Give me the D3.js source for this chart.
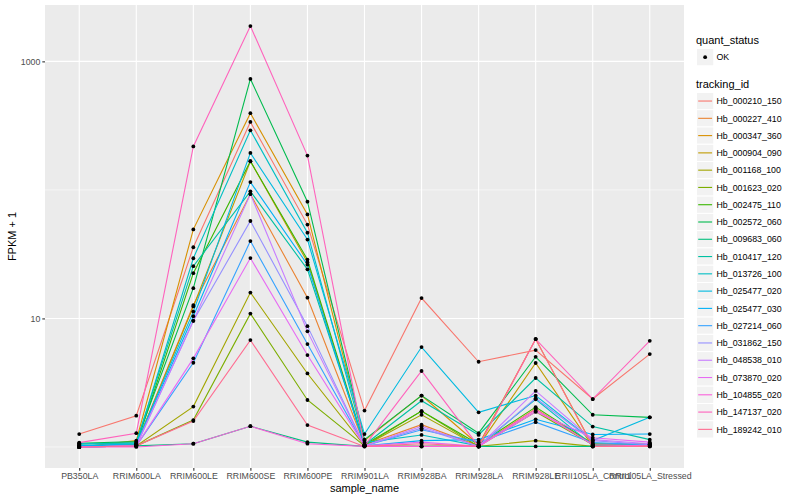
<!DOCTYPE html>
<html>
<head>
<meta charset="utf-8">
<script src="https://cdn.jsdelivr.net/npm/d3@7"></script>
<style>
  body { margin: 0; background: #fff; }
  text { font-family: "Liberation Sans", Arial, Helvetica, sans-serif; }
</style>
</head>
<body>
<svg id="chart" width="800" height="500"></svg>
<script>
// DATA: FPKM + 1 per sample
const samples = ["PB350LA", "RRIM600LA", "RRIM600LE", "RRIM600SE", "RRIM600PE",
    "RRIM901LA", "RRIM928BA", "RRIM928LA", "RRIM928LE", "RRII105LA_Control", "RRII105LA_Stressed"];

const trackingIds = ["Hb_000210_150", "Hb_000227_410", "Hb_000347_360", "Hb_000904_090",
    "Hb_001168_100", "Hb_001623_020", "Hb_002475_110", "Hb_002572_060", "Hb_009683_060",
    "Hb_010417_120", "Hb_013726_100", "Hb_025477_020", "Hb_025477_030", "Hb_027214_060",
    "Hb_031862_150", "Hb_048538_010", "Hb_073870_020", "Hb_104855_020", "Hb_147137_020",
    "Hb_189242_010"];

const hb000210_150 = [1.26, 1.75, 35.8, 338, 53.7, 1.92, 14.4, 4.60, 5.67, 2.36, 5.28];
const hb000227_410 = [1.02, 1.04, 12.7, 92.8, 14.5, 1.04, 1.49, 1.02, 1.98, 1.04, 1.02];
const hb000347_360 = [1.0, 1.12, 49.3, 395, 64.5, 1.12, 2.51, 1.04, 6.91, 1.02, 1.02];
const hb000904_090 = [1.0, 1.04, 12.4, 167, 27.4, 1.02, 1.01, 1.02, 4.50, 1.01, 1.02];
const hb001168_100 = [1.0, 1.02, 2.06, 15.9, 3.73, 1.02, 1.78, 1.01, 1.12, 1.01, 1.04];
const hb001623_020 = [1.0, 1.02, 1.62, 10.9, 2.32, 1.02, 1.90, 1.01, 1.88, 1.04, 1.04];
const hb002475_110 = [1.02, 1.04, 22.5, 167, 28.7, 1.04, 1.90, 1.05, 2.04, 1.06, 1.06];
const hb002572_060 = [1.07, 1.10, 17.2, 730, 81.0, 1.14, 2.51, 1.28, 5.03, 1.78, 1.70];
const hb009683_060 = [1.0, 1.02, 1.06, 1.45, 1.09, 1.01, 1.01, 1.01, 1.01, 1.01, 1.01];
const hb010417_120 = [1.05, 1.08, 25.5, 97.4, 24.1, 1.04, 2.29, 1.24, 3.44, 1.44, 1.14];
const hb013726_100 = [1.06, 1.06, 29.4, 291, 46.5, 1.08, 1.24, 1.02, 2.35, 1.03, 1.05];
const hb025477_020 = [1.02, 1.06, 11.3, 194, 41.1, 1.26, 5.99, 1.86, 2.51, 1.12, 1.70];
const hb025477_030 = [1.02, 1.04, 10.4, 115, 26.2, 1.02, 1.12, 1.14, 1.64, 1.25, 1.26];
const hb027214_060 = [1.0, 1.02, 4.52, 40.0, 6.32, 1.02, 1.36, 1.09, 1.56, 1.08, 1.04];
const hb031862_150 = [1.0, 1.02, 9.58, 57.3, 8.71, 1.02, 1.40, 1.01, 2.39, 1.12, 1.04];
const hb048538_010 = [1.0, 1.02, 9.58, 92.8, 7.93, 1.02, 1.45, 1.01, 2.73, 1.14, 1.06];
const hb073870_020 = [1.0, 1.02, 4.89, 29.5, 5.19, 1.02, 1.09, 1.01, 1.88, 1.18, 1.09];
const hb104855_020 = [1.0, 1.0, 1.06, 1.45, 1.06, 1.01, 1.01, 1.01, 1.95, 1.04, 1.02];
const hb147137_020 = [1.08, 1.28, 218, 1883, 185, 1.02, 3.90, 1.01, 6.91, 2.36, 6.70];
const hb189242_010 = [1.0, 1.02, 1.59, 6.78, 1.48, 1.01, 1.06, 1.01, 6.91, 1.01, 1.01];

const seriesValues = [hb000210_150, hb000227_410, hb000347_360, hb000904_090, hb001168_100,
    hb001623_020, hb002475_110, hb002572_060, hb009683_060, hb010417_120, hb013726_100,
    hb025477_020, hb025477_030, hb027214_060, hb031862_150, hb048538_010, hb073870_020,
    hb104855_020, hb147137_020, hb189242_010];

const yTicks = [10, 1000];
const yMinor = [1, 100];

// ggplot default hue palette for 20 levels
const palette = ["#F8766D", "#EA8331", "#D89000", "#C09B00", "#A3A500", "#7CAE00", "#39B600",
    "#00BB4E", "#00BF7D", "#00C1A3", "#00BFC4", "#00BAE0", "#00B0F6", "#35A2FF", "#9590FF",
    "#C77CFF", "#E76BF3", "#FA62DB", "#FF62BC", "#FF6C91"];

// SETUP
const margin = { top: 5, right: 116, bottom: 32, left: 45 },
    width = 800 - margin.left - margin.right,
    height = 500 - margin.top - margin.bottom;

const svg = d3.select("#chart");
const g = svg.append("g")
    .attr("transform", `translate(${margin.left},${margin.top})`);

const series = trackingIds.map((id, i) => ({
    id: id,
    values: samples.map((s, j) => ({ sample: s, value: seriesValues[i][j] }))
}));

// SCALES
const x = d3.scalePoint()
    .domain(samples)
    .range([0, width])
    .padding(0.6);

const allVals = seriesValues.flat();
const lo = Math.log10(d3.min(allVals)), hi = Math.log10(d3.max(allVals));
const pad = (hi - lo) * 0.05;
const y = d3.scaleLog()
    .domain([Math.pow(10, lo - pad), Math.pow(10, hi + pad)])
    .range([height, 0]);

const color = d3.scaleOrdinal().domain(trackingIds).range(palette);

// PANEL + GRID
g.append("rect")
    .attr("width", width)
    .attr("height", height)
    .attr("fill", "#EBEBEB");

g.selectAll(".minor")
    .data(yMinor)
    .enter()
    .append("line")
    .attr("x1", 0).attr("x2", width)
    .attr("y1", d => y(d)).attr("y2", d => y(d))
    .attr("stroke", "#fff")
    .attr("stroke-width", 0.55);

g.selectAll(".major")
    .data(yTicks)
    .enter()
    .append("line")
    .attr("x1", 0).attr("x2", width)
    .attr("y1", d => y(d)).attr("y2", d => y(d))
    .attr("stroke", "#fff")
    .attr("stroke-width", 1.1);

g.selectAll(".vgrid")
    .data(samples)
    .enter()
    .append("line")
    .attr("x1", d => x(d)).attr("x2", d => x(d))
    .attr("y1", 0).attr("y2", height)
    .attr("stroke", "#fff")
    .attr("stroke-width", 1.1);

// LINES
const line = d3.line()
    .x(d => x(d.sample))
    .y(d => y(d.value));

g.selectAll(".series")
    .data(series)
    .enter()
    .append("path")
    .attr("d", d => line(d.values))
    .attr("fill", "none")
    .attr("stroke", d => color(d.id))
    .attr("stroke-width", 1.1);

// POINTS
g.selectAll(".pt")
    .data(series.flatMap(s => s.values))
    .enter()
    .append("circle")
    .attr("cx", d => x(d.sample))
    .attr("cy", d => y(d.value))
    .attr("r", 1.9)
    .attr("fill", "#000");

// AXES
const xAxis = g.append("g")
    .attr("transform", `translate(0,${height})`)
    .call(d3.axisBottom(x).tickSize(2.7).tickPadding(2));

const yAxis = g.append("g")
    .call(d3.axisLeft(y).tickValues(yTicks).tickFormat(d3.format("d")).tickSize(2.7).tickPadding(2));

[xAxis, yAxis].forEach(a => {
    a.select(".domain").remove();
    a.selectAll(".tick line").attr("stroke", "#333333").attr("stroke-width", 1.1);
    a.selectAll(".tick text")
        .attr("fill", "#4D4D4D")
        .style("font-size", "8.8px")
        .style("font-family", "'Liberation Sans', Arial, sans-serif");
});

// AXIS LABELS
g.append("text")
    .attr("x", width / 2)
    .attr("y", height + 24)
    .attr("text-anchor", "middle")
    .style("font-size", "11px")
    .text("sample_name");

g.append("text")
    .attr("transform", "rotate(-90)")
    .attr("x", -height / 2)
    .attr("y", -29)
    .attr("text-anchor", "middle")
    .style("font-size", "11px")
    .text("FPKM + 1");

// LEGEND
const lg = svg.append("g").attr("transform", "translate(696,0)");
const keySize = 17.28;

lg.append("text").attr("x", 0).attr("y", 44).style("font-size", "11px").text("quant_status");
lg.append("rect")
    .attr("x", 0.5).attr("y", 48.5)
    .attr("width", keySize).attr("height", keySize)
    .attr("fill", "#F2F2F2").attr("stroke", "#fff");
lg.append("circle")
    .attr("cx", 0.5 + keySize / 2).attr("cy", 48.5 + keySize / 2)
    .attr("r", 1.9).attr("fill", "#000");
lg.append("text")
    .attr("x", 20.5).attr("y", 48.5 + keySize / 2 + 3.2)
    .style("font-size", "8.8px").text("OK");

lg.append("text").attr("x", 0).attr("y", 88).style("font-size", "11px").text("tracking_id");

const keys = lg.selectAll(".key")
    .data(trackingIds)
    .enter()
    .append("g")
    .attr("transform", (d, i) => `translate(0.5,${92.4 + i * keySize})`);

keys.append("rect")
    .attr("width", keySize).attr("height", keySize)
    .attr("fill", "#F2F2F2").attr("stroke", "#fff");

keys.append("line")
    .attr("x1", 1.7).attr("x2", keySize - 1.7)
    .attr("y1", keySize / 2).attr("y2", keySize / 2)
    .attr("stroke", d => color(d))
    .attr("stroke-width", 1.1);

keys.append("text")
    .attr("x", 20)
    .attr("y", keySize / 2 + 3.2)
    .style("font-size", "8.8px")
    .text(d => d);
</script>
</body>
</html>
